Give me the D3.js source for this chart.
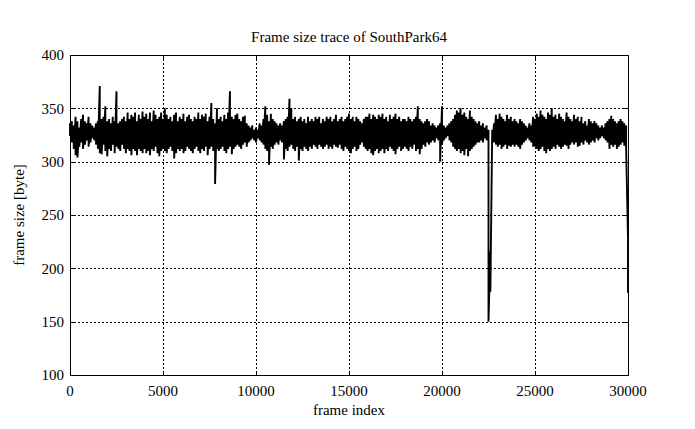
<!DOCTYPE html>
<html>
<head>
<meta charset="utf-8">
<script src="https://cdn.jsdelivr.net/npm/d3@7"></script>
<style>
  html, body { margin: 0; padding: 0; background: #fff; }
  svg { display: block; }
  text { font-family: "Liberation Serif", "DejaVu Serif", serif; fill: #000; }
</style>
</head>
<body>
<svg id="chart" width="695" height="429"></svg>
<script>
// ---- data ----
const title = "Frame size trace of SouthPark64";
const xLabel = "frame index";
const yLabel = "frame size [byte]";
const xTicks = [0, 5000, 10000, 15000, 20000, 25000, 30000];
const yTicks = [100, 150, 200, 250, 300, 350, 400];
const frameStep = 100; // frame index spacing between sampled columns
// largest frame size in each 100-frame window
const frameMax = [
  336, 338, 334, 342, 338, 332, 340, 344, 338, 336,
  342, 336, 334, 332, 336, 338, 371, 340, 342, 352,
  338, 340, 336, 342, 338, 366, 336, 338, 340, 342,
  338, 346, 340, 344, 342, 346, 338, 344, 340, 347,
  342, 345, 340, 346, 338, 348, 344, 340, 342, 346,
  340, 350, 344, 340, 342, 338, 344, 346, 338, 342,
  340, 345, 338, 342, 344, 340, 338, 342, 340, 346,
  340, 344, 342, 345, 338, 342, 355, 340, 336, 350,
  340, 342, 338, 344, 340, 346, 366, 342, 340, 344,
  345, 340, 338, 342, 343, 336, 334, 332, 334, 330,
  332, 330, 336, 334, 340, 352, 344, 338, 345, 340,
  338, 336, 334, 336, 334, 338, 340, 342, 359, 350,
  340, 342, 338, 340, 342, 338, 340, 336, 342, 338,
  340, 338, 342, 340, 342, 336, 340, 338, 342, 340,
  342, 338, 340, 344, 338, 340, 342, 338, 340, 342,
  345, 340, 342, 338, 342, 340, 338, 336, 340, 342,
  342, 345, 340, 344, 342, 340, 344, 342, 345, 340,
  342, 338, 344, 340, 342, 345, 340, 342, 338, 340,
  340, 338, 342, 340, 338, 340, 342, 352, 340, 338,
  336, 338, 340, 338, 334, 336, 334, 332, 334, 336,
  352, 334, 332, 334, 336, 338, 340, 344, 348, 346,
  350, 344, 346, 342, 340, 348, 342, 340, 338, 336,
  338, 334, 336, 332, 334, 330, 216, 330, 336, 344,
  340, 345, 342, 340, 338, 344, 340, 342, 338, 340,
  338, 336, 340, 338, 336, 334, 332, 336, 334, 342,
  340, 345, 342, 348, 344, 342, 340, 346, 344, 350,
  342, 344, 340, 345, 342, 340, 338, 346, 342, 340,
  338, 344, 340, 342, 338, 342, 336, 338, 334, 340,
  338, 336, 338, 336, 334, 332, 334, 332, 336, 338,
  340, 343, 340, 338, 336, 338, 340, 338, 336, 334,
  228
];
// smallest frame size in each 100-frame window
const frameMin = [
  324, 318, 312, 306, 304, 314, 318, 312, 316, 320,
  314, 318, 322, 320, 316, 312, 308, 307, 316, 310,
  305, 312, 310, 316, 308, 314, 312, 310, 316, 312,
  308, 312, 310, 306, 312, 310, 306, 312, 310, 308,
  312, 308, 310, 306, 312, 310, 314, 308, 305, 310,
  312, 310, 308, 312, 314, 310, 303, 308, 312, 310,
  312, 308, 310, 314, 312, 310, 308, 312, 314, 310,
  308, 312, 310, 314, 306, 312, 314, 310, 279, 312,
  310, 312, 314, 310, 308, 312, 314, 307, 312, 314,
  316, 314, 312, 316, 318, 314, 318, 320, 322, 320,
  318, 322, 320, 318, 316, 312, 310, 297, 314, 312,
  316, 318, 316, 320, 318, 302, 312, 310, 314, 316,
  312, 310, 314, 301, 312, 310, 314, 312, 310, 314,
  312, 316, 314, 312, 316, 314, 312, 314, 316, 312,
  314, 312, 316, 314, 313, 316, 312, 310, 314, 312,
  310, 308, 312, 314, 310, 312, 316, 318, 314, 312,
  310, 312, 308, 306, 310, 312, 308, 310, 312, 308,
  312, 310, 314, 312, 310, 307, 312, 314, 310, 312,
  314, 312, 310, 314, 312, 316, 310, 312, 307, 312,
  316, 314, 318, 316, 318, 320, 318, 322, 320, 300,
  316, 320, 322, 324, 320, 318, 314, 312, 310, 312,
  308, 310, 306, 312, 305, 310, 312, 314, 316, 318,
  318, 320, 318, 322, 320, 150, 178, 318, 318, 316,
  314, 316, 312, 314, 316, 312, 315, 314, 316, 314,
  316, 314, 312, 316, 318, 320, 322, 320, 318, 314,
  314, 312, 310, 312, 314, 310, 308, 312, 310, 312,
  314, 312, 316, 314, 312, 314, 316, 315, 312, 316,
  318, 316, 318, 314, 315, 318, 316, 320, 318, 316,
  318, 320, 318, 322, 320, 322, 324, 322, 320, 318,
  312, 316, 314, 316, 312, 314, 316, 318, 315, 312,
  177
];

// ---- layout ----
const svg = d3.select("#chart");
const plot = { left: 70, right: 628, top: 55, bottom: 375 };

const x = d3.scaleLinear().domain([0, 30000]).range([plot.left, plot.right]);
const y = d3.scaleLinear().domain([100, 400]).range([plot.bottom, plot.top]);

// grid
const grid = svg.append("g").attr("stroke", "#000").attr("stroke-width", 1)
  .attr("stroke-dasharray", "2,2").attr("shape-rendering", "crispEdges");
xTicks.slice(1, -1).forEach(t => {
  grid.append("line").attr("x1", Math.round(x(t)) + 0.5).attr("x2", Math.round(x(t)) + 0.5)
    .attr("y1", plot.top).attr("y2", plot.bottom);
});
yTicks.slice(1, -1).forEach(t => {
  grid.append("line").attr("y1", Math.round(y(t)) + 0.5).attr("y2", Math.round(y(t)) + 0.5)
    .attr("x1", plot.left).attr("x2", plot.right);
});

// inward tick marks
const tk = svg.append("g").attr("stroke", "#000").attr("stroke-width", 1).attr("shape-rendering", "crispEdges");
const tl = 4;
xTicks.forEach(t => {
  const px = Math.round(x(t)) + 0.5;
  tk.append("line").attr("x1", px).attr("x2", px).attr("y1", plot.bottom).attr("y2", plot.bottom - tl);
  tk.append("line").attr("x1", px).attr("x2", px).attr("y1", plot.top).attr("y2", plot.top + tl);
});
yTicks.forEach(t => {
  const py = Math.round(y(t)) + 0.5;
  tk.append("line").attr("y1", py).attr("y2", py).attr("x1", plot.left).attr("x2", plot.left + tl);
  tk.append("line").attr("y1", py).attr("y2", py).attr("x1", plot.right).attr("x2", plot.right - tl);
});

// data trace: per window, max then min (the dense trace seen at pixel scale)
const tracePts = [];
frameMax.forEach((v, i) => {
  tracePts.push({ f: i * frameStep, v: v });
  tracePts.push({ f: i * frameStep, v: frameMin[i] });
});
const line = d3.line()
  .x(d => x(d.f))
  .y(d => y(d.v));
svg.append("path")
  .datum(tracePts)
  .attr("fill", "none")
  .attr("stroke", "#000")
  .attr("stroke-width", 1.9)
  .attr("stroke-linejoin", "miter")
  .attr("stroke-miterlimit", 2)
  .attr("d", line);

// frame
svg.append("rect")
  .attr("x", plot.left + 0.5).attr("y", plot.top + 0.5)
  .attr("width", plot.right - plot.left).attr("height", plot.bottom - plot.top)
  .attr("fill", "none").attr("stroke", "#000").attr("stroke-width", 1)
  .attr("shape-rendering", "crispEdges");

// tick labels
const fs = 15;
svg.append("g").selectAll("text").data(xTicks).join("text")
  .attr("x", d => x(d)).attr("y", 396)
  .attr("text-anchor", "middle").attr("font-size", fs)
  .text(d => d);
svg.append("g").selectAll("text").data(yTicks).join("text")
  .attr("x", 64).attr("y", d => y(d)).attr("dy", "0.35em")
  .attr("text-anchor", "end").attr("font-size", fs)
  .text(d => d);

// titles
svg.append("text").attr("x", (plot.left + plot.right) / 2).attr("y", 42)
  .attr("text-anchor", "middle").attr("font-size", fs).text(title);
svg.append("text").attr("x", (plot.left + plot.right) / 2).attr("y", 415)
  .attr("text-anchor", "middle").attr("font-size", fs).text(xLabel);
svg.append("text")
  .attr("transform", `translate(24,${(plot.top + plot.bottom) / 2}) rotate(-90)`)
  .attr("text-anchor", "middle").attr("font-size", fs).text(yLabel);
</script>
</body>
</html>
